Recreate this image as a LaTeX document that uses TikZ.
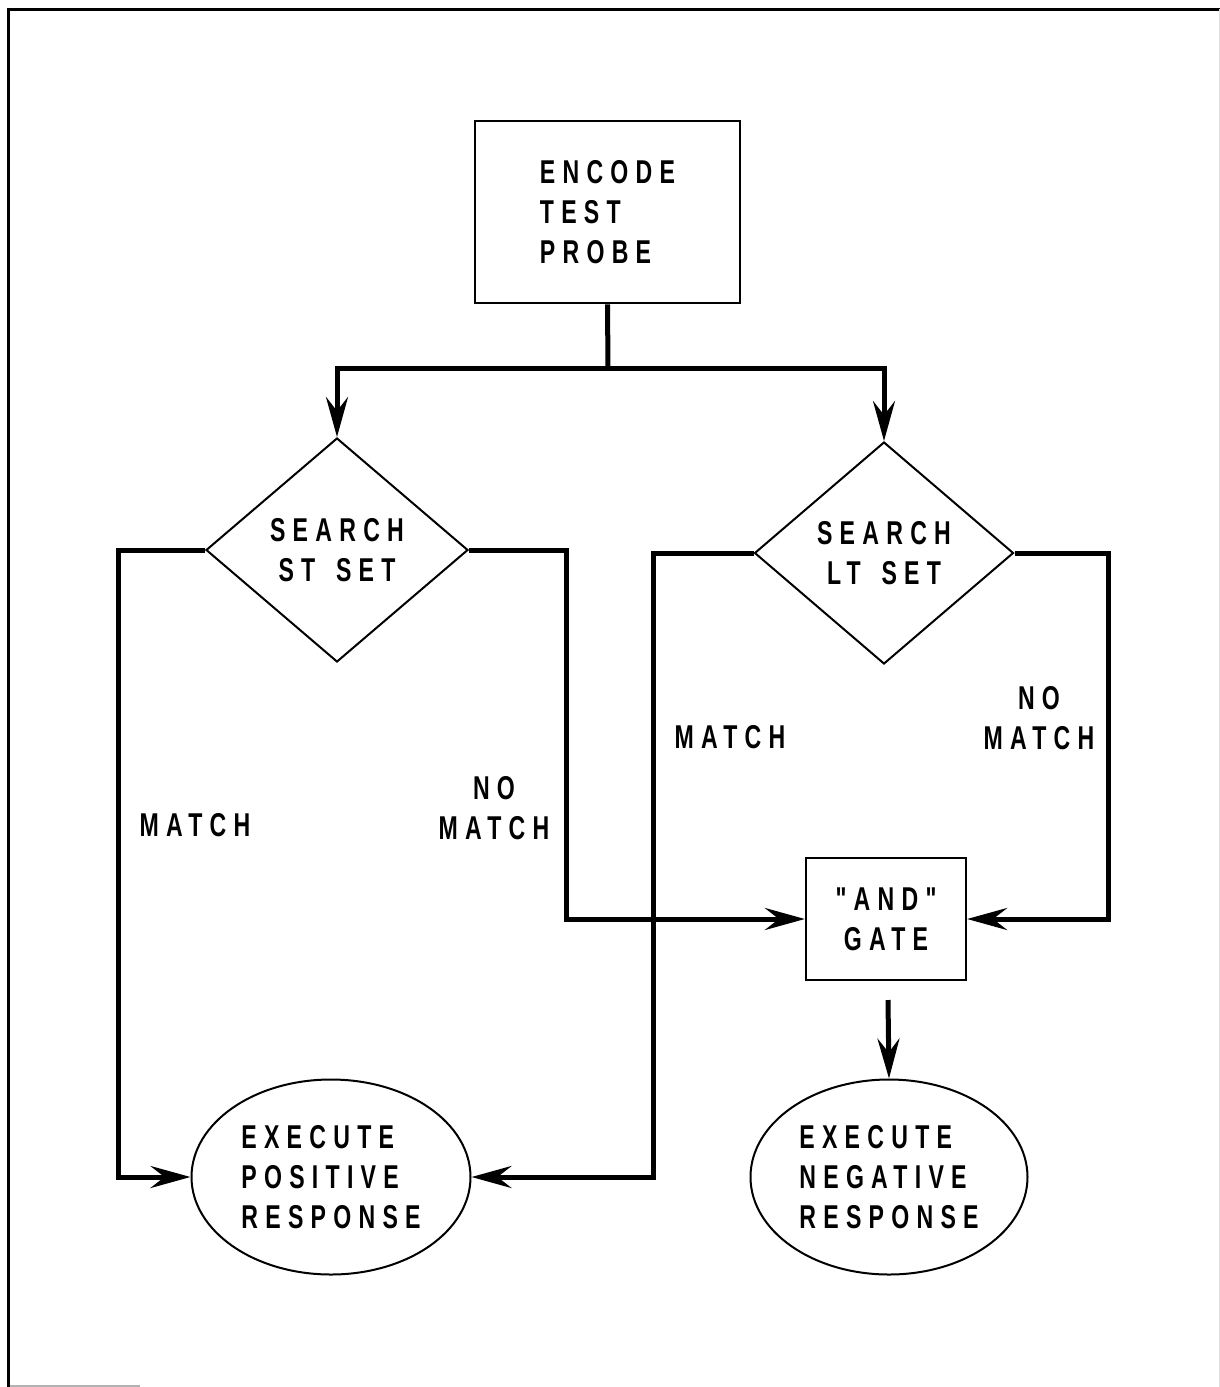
\documentclass[tikz,border=0pt]{standalone}
\usepackage{fontspec}
\newfontfamily\labfont[FakeStretch=0.7,LetterSpace=22]{Liberation Sans Bold}
\usetikzlibrary{shapes.geometric,arrows.meta}
\begin{document}
\begin{tikzpicture}[x=1pt,y=-1pt,
  lab/.style={font=\labfont\fontsize{33}{40}\selectfont, align=center, inner sep=0pt},
  boxnode/.style={lab, draw, line width=2.6pt, rectangle},
  dianode/.style={lab, draw, line width=2pt, diamond, inner sep=0pt},
  ellnode/.style={lab, draw, line width=2pt, ellipse, inner sep=0pt, align=left},
  conn/.style={line width=5pt, line join=miter},
  flow/.style={conn, -{Stealth[length=40pt,width=22pt,inset=14pt]}},
  frame/.style={line width=3pt}]
\useasboundingbox (0,0) rectangle (1220,1387);
% frame
\draw[frame] (8,1387) -- (8,9) -- (1220,9);
\draw[line width=1pt, black!12] (1219,9) -- (1219,1387);
\draw[line width=1.5pt, black!30] (10,1386) -- (140,1386);
% nodes
\node[boxnode, align=left, minimum width=265pt, minimum height=182pt] (enc) at (607.5,212) {ENCODE\\TEST\\PROBE};
\node[dianode, minimum width=262pt, minimum height=224pt] (st) at (337,550) {SEARCH\\ST\hspace{7pt} SET};
\node[dianode, minimum width=259pt, minimum height=222pt] (lt) at (884,553) {SEARCH\\LT\hspace{7pt} SET};
\node[boxnode, line width=2.2pt, minimum width=160pt, minimum height=122pt] (and) at (886,919) {"AND"\\GATE};
\node[ellnode, minimum width=279pt, minimum height=195pt] (pos) at (331,1177) {EXECUTE\\POSITIVE\\RESPONSE};
\node[ellnode, minimum width=277pt, minimum height=195pt] (neg) at (889,1177) {EXECUTE\\NEGATIVE\\RESPONSE};
% labels
\node[lab] (m1) at (195,825) {MATCH};
\node[lab] (nm1) at (494,808) {NO\\MATCH};
\node[lab] (m2) at (730,737) {MATCH};
\node[lab] (nm2) at (1039,718) {NO\\MATCH};
% connectors
\coordinate (split) at (608,368);
\coordinate (andout) at (888,1000);
\draw[conn] (enc.south) -- (split);
\draw[flow] (split) -| (st.north);
\draw[flow] (split) -| (lt.north);
\draw[flow] (st.west) -- ++(-87,0) |- (pos.west);
\draw[flow] (st.east) -- ++(97,0) |- (and.west);
\draw[flow] (lt.west) -- ++(-100,0) |- (pos.east);
\draw[flow] (lt.east) -- ++(94,0) |- (and.east);
\draw[flow] (andout) -- (neg.north);
\end{tikzpicture}
\end{document}
